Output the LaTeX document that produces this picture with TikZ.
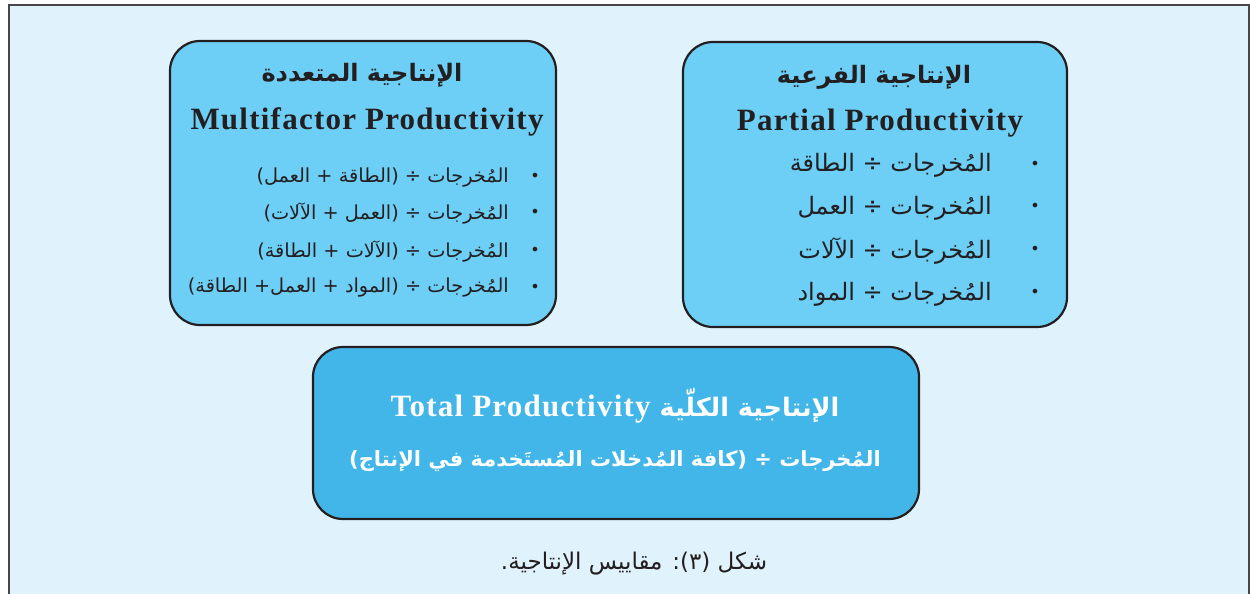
\documentclass[tikz,border=0pt]{standalone}
\usepackage{fontspec}
\setmainfont{Liberation Serif}
\newfontfamily\arabicfont[Script=Arabic]{DejaVu Sans}
\newfontfamily\titlefont[LetterSpace=4.0]{Liberation Serif Bold}
\TeXXeTstate=1
\definecolor{pagebg}{RGB}{224,242,252}
\definecolor{framec}{RGB}{70,70,75}
\definecolor{boxline}{RGB}{35,31,32}
\definecolor{boxA}{RGB}{109,207,246}
\definecolor{boxB}{RGB}{66,182,232}
\definecolor{txt}{RGB}{35,31,32}
\tikzset{
  roundbox/.style={draw=boxline, line width=2.2pt, rounded corners=30pt, inner sep=0pt},
  artitle/.style={text=txt, font=\arabicfont\fontsize{24}{28}\selectfont\bfseries, inner sep=0pt},
  entitle/.style={text=txt, font=\titlefont\fontsize{31}{36}\selectfont, inner sep=0pt},
  mline/.style={text=txt, font=\arabicfont\fontsize{19.3}{23}\selectfont, inner sep=0pt, anchor=east},
  pline/.style={text=txt, font=\arabicfont\fontsize{24}{28}\selectfont, inner sep=0pt, anchor=east},
  bulletmark/.style={text=txt, font=\arabicfont\fontsize{16}{18}\selectfont, inner sep=0pt},
  whitetitle/.style={text=white, font=\arabicfont\fontsize{25.5}{30}\selectfont\bfseries, inner sep=0pt},
  whiteline/.style={text=white, font=\arabicfont\fontsize{21}{25}\selectfont\bfseries, inner sep=0pt},
  captiontext/.style={text=txt, font=\arabicfont\fontsize{23}{27}\selectfont, inner sep=0pt}
}
\begin{document}
\begin{tikzpicture}[x=1pt,y=-1pt]
\useasboundingbox (0,0) rectangle (1250,594);
\fill[pagebg] (9,5) rectangle (1250,594);
\draw[framec, line width=2pt] (9,594) -- (9,5) -- (1248.5,5) -- (1248.5,594);

% boxes
\node[roundbox, fill=boxA, minimum width=386pt, minimum height=284pt] (multi) at (363,183) {};
\node[roundbox, fill=boxA, minimum width=384pt, minimum height=285pt] (partial) at (875,184.5) {};
\node[roundbox, fill=boxB, minimum width=606pt, minimum height=172pt] (total) at (616,433) {};

% multifactor
\node[artitle] (mt1) at (362,75) {\beginR الإنتاجية المتعددة\endR};
\node[entitle] (mt2) at (367,122) {Multifactor Productivity};
\node[mline] (m1) at (509,178) {\beginR المُخرجات ÷ (الطاقة + العمل)\endR};
\node[mline] (m2) at (509,214) {\beginR المُخرجات ÷ (العمل + الآلات)\endR};
\node[mline] (m3) at (509,251) {\beginR المُخرجات ÷ (الآلات + الطاقة)\endR};
\node[mline] (m4) at (509,288) {\beginR المُخرجات ÷ (المواد + العمل+ الطاقة)\endR};
\foreach \yy/\nm in {177/mb1,213/mb2,251/mb3,288/mb4}
  \node[bulletmark] (\nm) at (535,\yy) {•};

% partial
\node[artitle] (pt1) at (874,77) {\beginR الإنتاجية الفرعية\endR};
\node[entitle] (pt2) at (880,123) {Partial Productivity};
\node[pline] (p1) at (992,165) {\beginR المُخرجات ÷ الطاقة\endR};
\node[pline] (p2) at (992,208) {\beginR المُخرجات ÷ العمل\endR};
\node[pline] (p3) at (992,251) {\beginR المُخرجات ÷ الآلات\endR};
\node[pline] (p4) at (992,294) {\beginR المُخرجات ÷ المواد\endR};
\foreach \yy/\nm in {165/pb1,207/pb2,250/pb3,293/pb4}
  \node[bulletmark] (\nm) at (1035,\yy) {•};

% total
\node[whitetitle] (tt1) at (615,406) {\beginR الإنتاجية الكلّية {\titlefont\fontsize{31}{36}\selectfont\beginL Total Productivity\endL}\endR};
\node[whiteline] (tt2) at (615,461) {\beginR المُخرجات ÷ (كافة المُدخلات المُستَخدمة في الإنتاج)\endR};

% caption
\node[captiontext] (cap) at (634,564) {\beginR شكل (٣): مقاييس الإنتاجية.\endR};
\end{tikzpicture}
\end{document}
